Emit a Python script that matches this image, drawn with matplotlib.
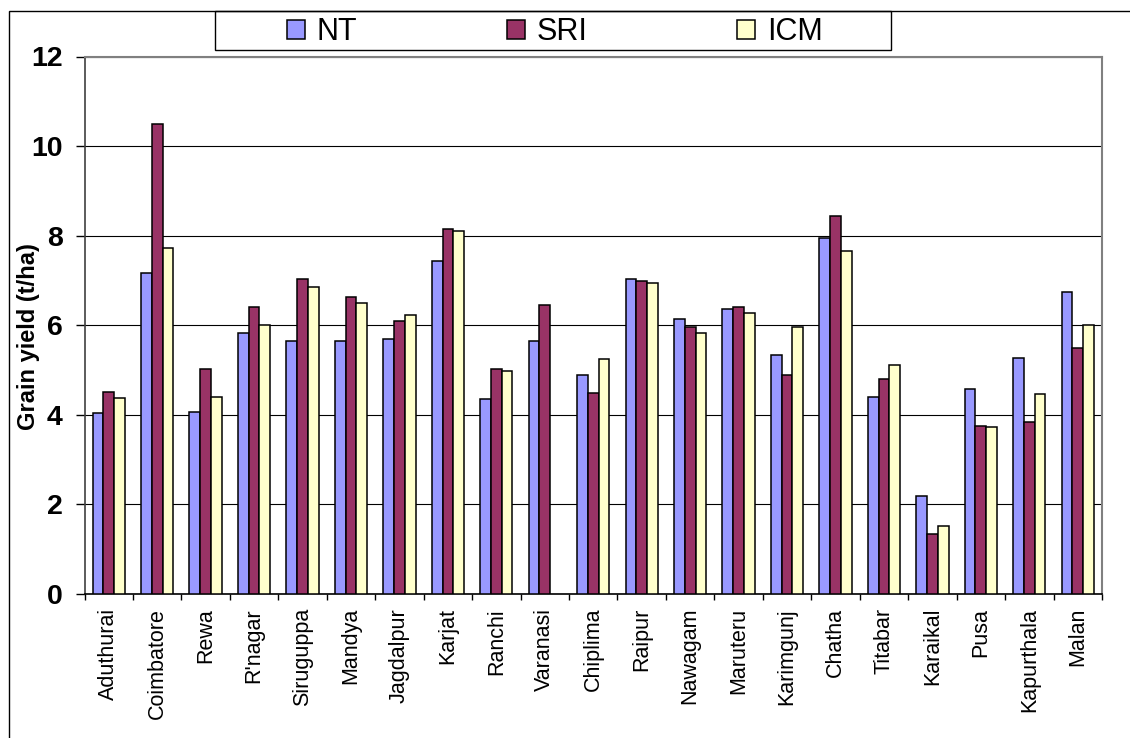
"""Grain yield per site: NT vs SRI vs ICM"""
import numpy as np
import matplotlib
matplotlib.use('Agg')
import matplotlib.pyplot as plt
from matplotlib.patches import Rectangle, Patch

plt.rcParams['font.family'] = ['Liberation Sans', 'DejaVu Sans']

sites = ['Aduthurai', 'Coimbatore', 'Rewa', "R'nagar", 'Siruguppa', 'Mandya',
         'Jagdalpur', 'Karjat', 'Ranchi', 'Varanasi', 'Chiplima', 'Raipur',
         'Nawagam', 'Maruteru', 'Karimgunj', 'Chatha', 'Titabar', 'Karaikal',
         'Pusa', 'Kapurthala', 'Malan']
nt = [4.03, 7.17, 4.07, 5.82, 5.65, 5.65, 5.69, 7.44, 4.35, 5.65, 4.88,
      7.04, 6.14, 6.36, 5.33, 7.94, 4.39, 2.19, 4.57, 5.27, 6.75]
sri = [4.50, 10.49, 5.02, 6.41, 7.04, 6.63, 6.09, 8.16, 5.02, 6.46, 4.48,
       6.99, 5.96, 6.41, 4.88, 8.43, 4.79, 1.34, 3.76, 3.84, 5.50]
icm = [4.38, 7.72, 4.39, 6.01, 6.86, 6.50, 6.24, 8.11, 4.98, np.nan, 5.24,
       6.95, 5.83, 6.27, 5.96, 7.66, 5.11, 1.52, 3.72, 4.47, 6.00]

W, H = 1130, 738
fig = plt.figure(figsize=(W / 100, H / 100), dpi=100)
ax = fig.add_axes([84.5 / W, 1 - 594 / H, (1102 - 84.5) / W, (594 - 56.5) / H])

x = np.arange(len(sites))
bw = 0.222
ax.bar(x - bw, nt, bw, color='#9999FF', edgecolor='black', linewidth=1.1, zorder=3)
ax.bar(x, sri, bw, color='#993366', edgecolor='black', linewidth=1.1, zorder=3)
ax.bar(x + bw, icm, bw, color='#FFFFCC', edgecolor='black', linewidth=1.1, zorder=3)

ax.set_xlim(-0.5, len(sites) - 0.5)
ax.set_ylim(0, 12)
ax.set_yticks(range(0, 13, 2))
ax.tick_params(axis='y', length=6.8, width=1, pad=9, labelsize=20.5)
for t in ax.get_yticklabels():
    t.set_fontweight('bold')
ax.grid(axis='y', color='black', linewidth=0.8, zorder=1)

# ticks at the category boundaries, labels at centres
ax.set_xticks(np.arange(-0.5, len(sites), 1.0))
ax.set_xticklabels([])
ax.tick_params(axis='x', which='major', length=4.3, width=1)
ax.set_xticks(x, minor=True)
ax.set_xticklabels(sites, minor=True, rotation=90, fontsize=15.5)
ax.tick_params(axis='x', which='minor', length=0, pad=10)

ax.spines['left'].set_color('#404040')
ax.spines['left'].set_linewidth(1.2)
ax.spines['bottom'].set_color('black')
ax.spines['bottom'].set_linewidth(1.2)
for s in ('top', 'right'):
    ax.spines[s].set_color('#808080')
    ax.spines[s].set_linewidth(1.5)

fig.text(29 / W, 1 - 337 / H, 'Grain yield (t/ha)', rotation=90, fontsize=17,
         fontweight='bold', ha='center', va='center')

# chart outer border and legend box
fig.patches.append(Rectangle((8.5 / W, -0.05), 1.2, 1 - 11.3 / H + 0.05,
                             transform=fig.transFigure, fill=False,
                             edgecolor='black', linewidth=1.0))
fig.patches.append(Rectangle((214.6 / W, 1 - 49.7 / H), (891 - 214.6) / W,
                             (49.7 - 11.3) / H, transform=fig.transFigure,
                             fill=False, edgecolor='black', linewidth=1.0))
handles = [Patch(facecolor=c, edgecolor='black', linewidth=1.1)
           for c in ('#9999FF', '#993366', '#FFFFCC')]
fig.legend(handles, ['NT', 'SRI', 'ICM'], loc='center', ncol=3, frameon=False,
           bbox_to_anchor=(555 / W, 1 - 32 / H), fontsize=22,
           handlelength=0.59, handleheight=0.59, handletextpad=0.38,
           columnspacing=4.9, borderpad=0)

fig.savefig('out.png', dpi=100)
